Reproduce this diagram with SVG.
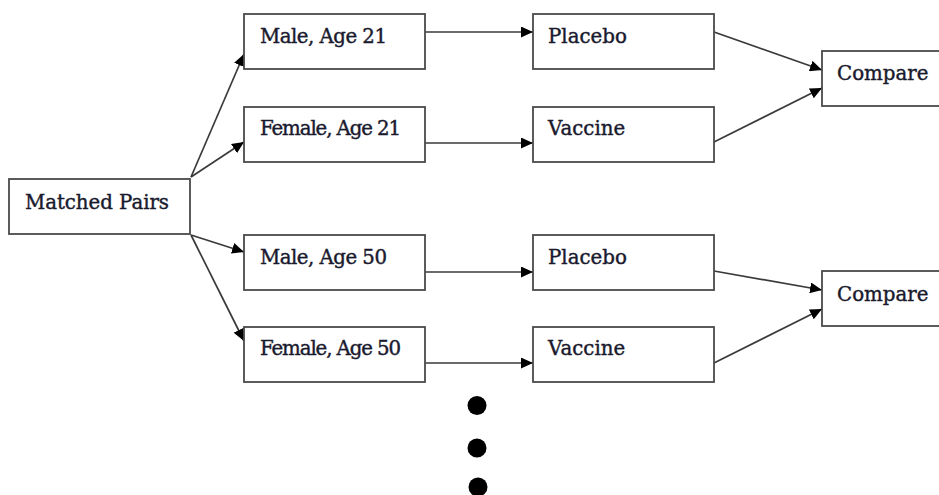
<svg xmlns="http://www.w3.org/2000/svg" width="939" height="495" viewBox="0 0 939 495">
  <style>
    .box { fill: #ffffff; stroke: #4a4a4a; stroke-width: 1.8; }
    .lbl { font-family: "DejaVu Serif", "Liberation Serif", serif; font-size: 19.8px; fill: #1a1a2e; stroke: #1a1a2e; stroke-width: 0.4; }
    .conn { stroke: #3a3a3a; stroke-width: 1.7; fill: none; marker-end: url(#arrow); }
    .dot { fill: #000000; }
  </style>
  <defs>
    <marker id="arrow" markerUnits="userSpaceOnUse" markerWidth="13" markerHeight="11" refX="12" refY="5.5" orient="auto">
      <path d="M0,0 L12,5.5 L0,11 Z" fill="#000000"/>
    </marker>
  </defs>
  <rect width="939" height="495" fill="#ffffff"/>

  <!-- connectors -->
  <g id="connectors">
    <line class="conn" x1="191" y1="177" x2="244" y2="54"/>
    <line class="conn" x1="191" y1="177" x2="244" y2="142"/>
    <line class="conn" x1="191" y1="235" x2="244" y2="252"/>
    <line class="conn" x1="191" y1="235" x2="244" y2="341"/>
    <line class="conn" x1="425" y1="32" x2="533" y2="32"/>
    <line class="conn" x1="425" y1="143" x2="533" y2="143"/>
    <line class="conn" x1="425" y1="272" x2="533" y2="272"/>
    <line class="conn" x1="425" y1="363" x2="533" y2="363"/>
    <line class="conn" x1="714" y1="32" x2="822" y2="70"/>
    <line class="conn" x1="714" y1="142" x2="822" y2="88"/>
    <line class="conn" x1="714" y1="271" x2="822" y2="290"/>
    <line class="conn" x1="714" y1="363" x2="822" y2="309"/>
  </g>

  <g id="matched-pairs">
    <rect class="box" x="9" y="179" width="181" height="55"/>
    <text class="lbl" x="25" y="209" textLength="144">Matched Pairs</text>
  </g>

  <g id="male-21">
    <rect class="box" x="244" y="14" width="181" height="55"/>
    <text class="lbl" x="260" y="43" textLength="127">Male, Age 21</text>
  </g>
  <g id="female-21">
    <rect class="box" x="244" y="107" width="181" height="55"/>
    <text class="lbl" x="260" y="135" textLength="141">Female, Age 21</text>
  </g>
  <g id="male-50">
    <rect class="box" x="244" y="235" width="181" height="55"/>
    <text class="lbl" x="260" y="264" textLength="127">Male, Age 50</text>
  </g>
  <g id="female-50">
    <rect class="box" x="244" y="327" width="181" height="55"/>
    <text class="lbl" x="260" y="355" textLength="141">Female, Age 50</text>
  </g>

  <g id="placebo-1">
    <rect class="box" x="533" y="14" width="181" height="55"/>
    <text class="lbl" x="548" y="43">Placebo</text>
  </g>
  <g id="vaccine-1">
    <rect class="box" x="533" y="107" width="181" height="55"/>
    <text class="lbl" x="548" y="135">Vaccine</text>
  </g>
  <g id="placebo-2">
    <rect class="box" x="533" y="235" width="181" height="55"/>
    <text class="lbl" x="548" y="264">Placebo</text>
  </g>
  <g id="vaccine-2">
    <rect class="box" x="533" y="327" width="181" height="55"/>
    <text class="lbl" x="548" y="355">Vaccine</text>
  </g>

  <g id="compare-1">
    <rect class="box" x="822" y="51" width="130" height="55"/>
    <text class="lbl" x="837" y="80">Compare</text>
  </g>
  <g id="compare-2">
    <rect class="box" x="822" y="271" width="130" height="55"/>
    <text class="lbl" x="837" y="301">Compare</text>
  </g>

  <!-- continuation dots -->
  <g id="ellipsis">
    <circle class="dot" cx="477" cy="405.5" r="9.5"/>
    <circle class="dot" cx="477" cy="448" r="9.5"/>
    <circle class="dot" cx="478" cy="487" r="9.5"/>
  </g>
</svg>
